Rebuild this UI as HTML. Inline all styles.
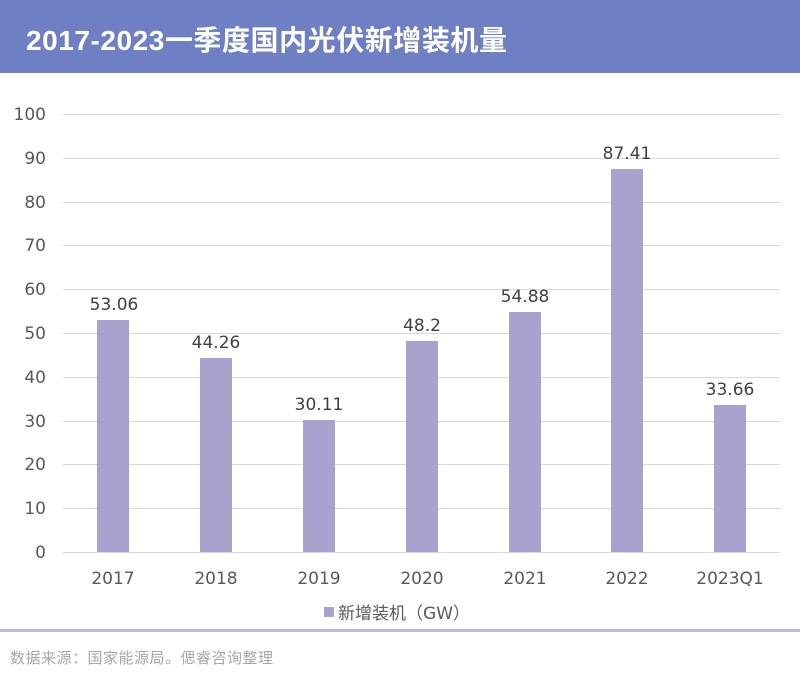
<!DOCTYPE html>
<html><head><meta charset="utf-8"><style>
html,body{margin:0;padding:0;background:#fff;}
body{width:800px;height:679px;overflow:hidden;}
</style></head><body>
<svg width="800" height="679" xmlns="http://www.w3.org/2000/svg" font-family="DejaVu Sans, Noto Sans CJK SC, sans-serif">
<rect x="0" y="0" width="800" height="73" fill="#6f7fc4"/>
<text x="26" y="50" font-size="28" font-weight="bold" fill="#fff" font-family="Liberation Sans, Noto Sans CJK SC, sans-serif" textLength="481" lengthAdjust="spacing">2017-2023一季度国内光伏新增装机量</text>
<g stroke="#d9d9d9" stroke-width="1">
<line x1="63" x2="780" y1="114.5" y2="114.5"/><line x1="63" x2="780" y1="158.5" y2="158.5"/>
<line x1="63" x2="780" y1="202.5" y2="202.5"/><line x1="63" x2="780" y1="245.5" y2="245.5"/>
<line x1="63" x2="780" y1="289.5" y2="289.5"/><line x1="63" x2="780" y1="333.5" y2="333.5"/>
<line x1="63" x2="780" y1="377.5" y2="377.5"/><line x1="63" x2="780" y1="421.5" y2="421.5"/>
<line x1="63" x2="780" y1="464.5" y2="464.5"/><line x1="63" x2="780" y1="508.5" y2="508.5"/>
<line x1="63" x2="780" y1="552.5" y2="552.5"/>
</g>
<g font-size="17" fill="#595959" text-anchor="end">
<text x="46" y="120">100</text><text x="46" y="164">90</text><text x="46" y="208">80</text>
<text x="46" y="251">70</text><text x="46" y="295">60</text><text x="46" y="339">50</text>
<text x="46" y="383">40</text><text x="46" y="427">30</text><text x="46" y="470">20</text>
<text x="46" y="514">10</text><text x="46" y="558">0</text>
</g>
<g fill="#a9a2cf">
<rect x="97" y="320" width="32" height="232"/>
<rect x="200" y="358" width="32" height="194"/>
<rect x="303" y="420" width="32" height="132"/>
<rect x="406" y="341" width="32" height="211"/>
<rect x="509" y="312" width="32" height="240"/>
<rect x="611" y="169" width="32" height="383"/>
<rect x="714" y="405" width="32" height="147"/>
</g>
<g font-size="17" fill="#404040" text-anchor="middle">
<text x="114" y="310">53.06</text><text x="216" y="348">44.26</text><text x="319" y="410">30.11</text>
<text x="422" y="331">48.2</text><text x="525" y="302">54.88</text><text x="627" y="159">87.41</text>
<text x="730" y="395">33.66</text>
</g>
<g font-size="17" fill="#595959" text-anchor="middle">
<text x="113" y="584">2017</text><text x="216" y="584">2018</text><text x="319" y="584">2019</text>
<text x="422" y="584">2020</text><text x="525" y="584">2021</text><text x="627" y="584">2022</text>
<text x="730" y="584">2023Q1</text>
</g>
<rect x="324" y="607" width="10" height="10" fill="#a9a2cf"/>
<text x="338" y="619" font-size="17" fill="#595959" textLength="132" lengthAdjust="spacing">新增装机（GW）</text>
<rect x="0" y="629" width="800" height="3" fill="#b9bde0"/>
<text x="10" y="663" font-size="15" fill="#a6a6a6" textLength="263" lengthAdjust="spacing">数据来源：国家能源局。偲睿咨询整理</text>
</svg>
</body></html>
